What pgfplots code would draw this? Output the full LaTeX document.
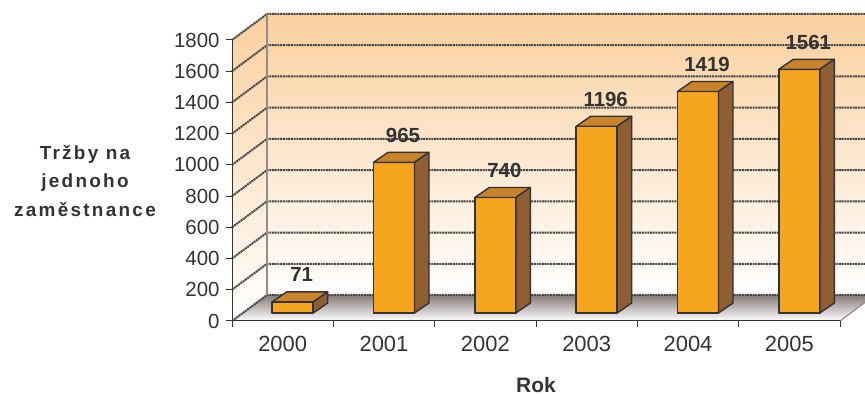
\documentclass[border=0pt]{standalone}
\usepackage{fontspec}
\setmainfont{Liberation Sans}
\newfontfamily\spacedsans[LetterSpace=12]{Liberation Sans}
\usepackage{pgfplots}
\pgfplotsset{compat=1.18}
\usepackage{pgfplotstable}

\definecolor{barfront}{RGB}{246,166,30}
\definecolor{bartop}{RGB}{200,132,42}
\definecolor{barside}{RGB}{143,94,52}
\definecolor{baredge}{RGB}{51,51,51}
\definecolor{wallpeach}{RGB}{250,208,158}
\definecolor{gridgray}{RGB}{72,72,72}
\definecolor{edgegray}{RGB}{150,140,135}
\definecolor{textgray}{RGB}{51,51,51}
\definecolor{floordark}{RGB}{135,122,122}
\definecolor{floormid}{RGB}{222,216,216}

% Sales per employee, by year
\pgfplotstableread{
idx year v
0 2000 71
1 2001 965
2 2002 740
3 2003 1196
4 2004 1419
5 2005 1561
}\salesdata

\pgfdeclareplotmark{nothing}{}

\tikzset{
  gridline/.style={draw=gridgray, line width=2bp, dash pattern=on 2bp off 0.7bp},
  baredges/.style={draw=baredge, line width=1.4bp, line join=round},
}

\begin{document}
\begin{tikzpicture}
\path[use as bounding box] (0,0) rectangle (865bp,396bp);
\clip (0,0) rectangle (865bp,396bp);
\begin{axis}[
  at={(232bp,75bp)}, anchor=south west,
  x=101.333bp, y=0.156111bp,
  xmin=-0.5, xmax=5.5, ymin=0, ymax=1800,
  clip=false,
  axis x line*=bottom, axis y line*=left,
  axis line style={draw=none},
  /pgf/number format/assume math mode=true,
  /pgf/number format/1000 sep={},
  ytick={0,200,...,1800},
  xtick={0,...,5},
  xticklabels={2000,2001,2002,2003,2004,2005},
  x tick style={draw=none},
  y tick style={draw=textgray, line width=1bp},
  tick align=outside, major tick length=6bp,
  yticklabel style={font=\fontsize{20.5}{21}\selectfont, text=textgray, xshift=-3bp},
  xticklabel style={font=\fontsize{22}{23}\selectfont, text=textgray, yshift=-6bp},
]
% back wall, side wall and floor
\shade[top color=wallpeach, bottom color=white]
  ([shift={(35bp,26bp)}]axis cs:-0.5,0) -- ([shift={(35bp,26bp)}]axis cs:5.5,0)
  -- ([shift={(35bp,26bp)}]axis cs:5.5,1800) -- ([shift={(35bp,26bp)}]axis cs:-0.5,1800) -- cycle;
\shade[top color=wallpeach, bottom color=white]
  (axis cs:-0.5,0) -- (axis cs:-0.5,1800)
  -- ([shift={(35bp,26bp)}]axis cs:-0.5,1800) -- ([shift={(35bp,26bp)}]axis cs:-0.5,0) -- cycle;
\shade[top color=floordark, middle color=floormid, bottom color=white]
  (axis cs:-0.5,0) -- (axis cs:5.5,0)
  -- ([shift={(35bp,26bp)}]axis cs:5.5,0) -- ([shift={(35bp,26bp)}]axis cs:-0.5,0) -- cycle;
% grid lines across both walls
\pgfplotsinvokeforeach{0,200,...,1800}{
  \draw[gridline] (axis cs:-0.5,#1) -- ([shift={(35bp,26bp)}]axis cs:-0.5,#1)
    -- ([shift={(35bp,26bp)}]axis cs:5.5,#1);
}
\draw[edgegray, line width=1.2bp] ([shift={(35bp,26bp)}]axis cs:-0.5,0) -- ([shift={(35bp,26bp)}]axis cs:-0.5,1800);
\draw[edgegray, line width=1.2bp] (axis cs:5.5,0) -- ([shift={(35bp,26bp)}]axis cs:5.5,0);
% front edges and category ticks
\draw[textgray, line width=1bp] (axis cs:-0.5,1800) -- (axis cs:-0.5,0) -- (axis cs:5.5,0);
\pgfplotsinvokeforeach{-0.5,0.5,...,5.5}{
  \draw[textgray, line width=1bp] (axis cs:#1,0) -- ([yshift=-6bp]axis cs:#1,0);
}
% 3D bars with value labels
\addplot[only marks, mark=nothing, scatter,
  point meta=explicit symbolic,
  scatter/@pre marker code/.code={%
    \edef\val{\pgfplotspointmeta}%
    \pgfmathsetmacro\hb{8-\val*0.156111}%
    \pgfmathsetmacro\hs{\hb+10}%
    \filldraw[fill=barfront, baredges] (-10.5bp,\hb bp) rectangle (30.5bp,8bp);
    \filldraw[fill=bartop, baredges] (-10.5bp,8bp) -- (30.5bp,8bp) -- (45bp,18bp) -- (4bp,18bp) -- cycle;
    \filldraw[fill=barside, baredges] (30.5bp,8bp) -- (45bp,18bp) -- (45bp,\hs bp) -- (30.5bp,\hb bp) -- cycle;
    \node[anchor=base, text=textgray, inner sep=0pt, font=\bfseries\fontsize{20.5}{21}\selectfont] at (19bp,28bp) {\val};
  },
  scatter/@post marker code/.code={},
] table[x=idx, y=v, meta=v] {\salesdata};
\end{axis}
% axis titles
\node[anchor=base, inner sep=0pt, text=textgray, font=\bfseries\fontsize{21}{22}\selectfont] at (536bp,3.5bp) {Rok};
\begin{scope}[every node/.style={anchor=base, text=textgray, inner sep=0pt, font=\spacedsans\bfseries\fontsize{19}{20}\selectfont}]
\node at (85bp,236.5bp) {Tržby na};
\node at (85bp,208bp) {jednoho};
\node at (85bp,179.3bp) {zaměstnance};
\end{scope}
\end{tikzpicture}
\end{document}
